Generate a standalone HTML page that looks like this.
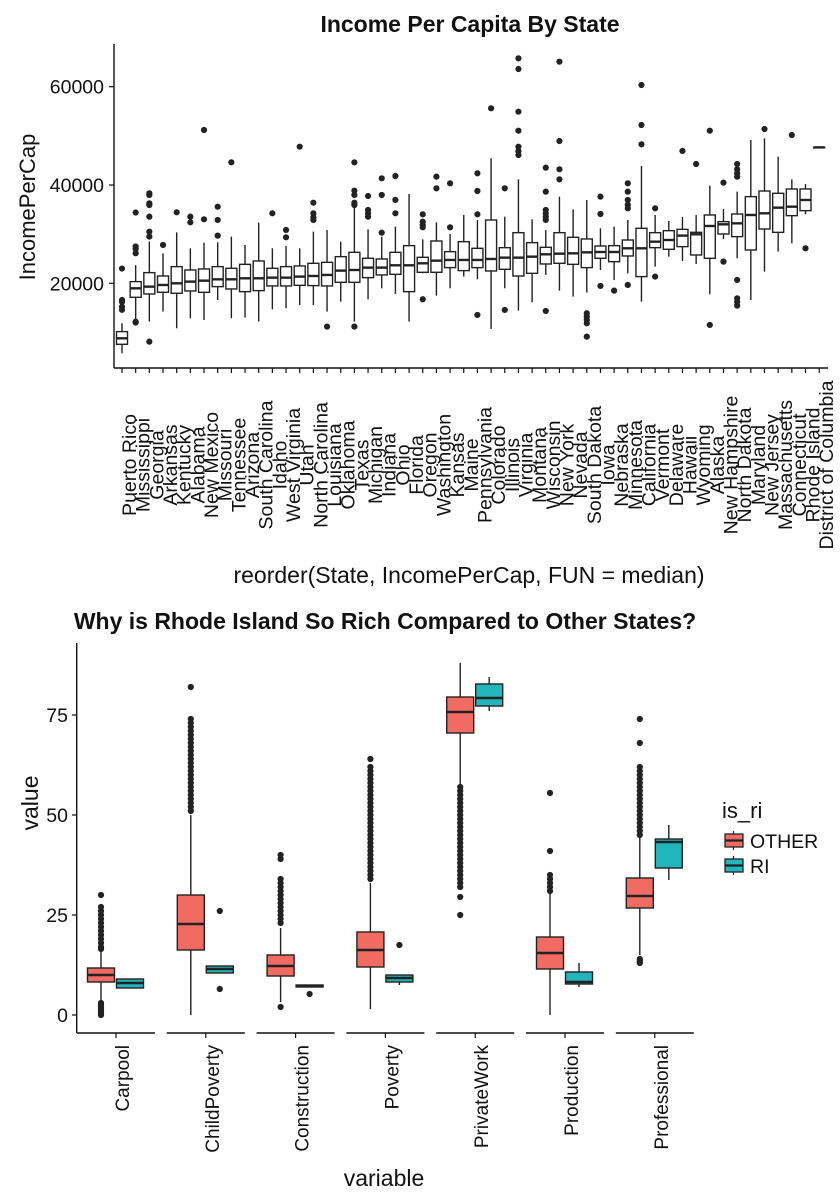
<!DOCTYPE html>
<html><head><meta charset="utf-8"><style>
html,body{margin:0;padding:0;background:#fff;}
svg{display:block;font-family:"Liberation Sans",Arial,sans-serif;}
</style></head><body>
<svg id="chart" width="840" height="1200" viewBox="0 0 840 1200" xmlns="http://www.w3.org/2000/svg">
<text x="470" y="32" text-anchor="middle" font-size="23" font-weight="bold" fill="#111">Income Per Capita By State</text>
<text transform="translate(35,207) rotate(-90)" text-anchor="middle" font-size="22" fill="#111">IncomePerCap</text>
<text x="469" y="583" text-anchor="middle" font-size="23" fill="#111">reorder(State, IncomePerCap, FUN = median)</text>
<g id="topPlot"></g>
<text x="385" y="629" text-anchor="middle" font-size="23" font-weight="bold" fill="#111">Why is Rhode Island So Rich Compared to Other States?</text>
<text transform="translate(38,803) rotate(-90)" text-anchor="middle" font-size="23" fill="#111">value</text>
<text x="384" y="1186" text-anchor="middle" font-size="23" fill="#111">variable</text>
<g id="botPlot"></g>
<g>
<text x="722" y="818" font-size="22" fill="#111">is_ri</text>
<g>
<line x1="733.5" y1="831" x2="733.5" y2="850" stroke="#222" stroke-width="1.2"/>
<rect x="725" y="834" width="18" height="13" fill="#F26B63" stroke="#222" stroke-width="1.3"/>
<line x1="725" y1="840.5" x2="743" y2="840.5" stroke="#222" stroke-width="2.2"/>
<text x="750" y="848" font-size="19.5" fill="#111">OTHER</text></g>
<g>
<line x1="733.5" y1="856" x2="733.5" y2="875" stroke="#222" stroke-width="1.2"/>
<rect x="725" y="859" width="18" height="13" fill="#20B6BC" stroke="#222" stroke-width="1.3"/>
<line x1="725" y1="865.5" x2="743" y2="865.5" stroke="#222" stroke-width="2.2"/>
<text x="750" y="873" font-size="19.5" fill="#111">RI</text></g>
</g>
</svg>
<script>
// ---------- TOP CHART DATA ----------
const states = ["Puerto Rico","Mississippi","Georgia","Arkansas","Kentucky","Alabama","New Mexico","Missouri","Tennessee","Arizona","South Carolina","Idaho","West Virginia","Utah","North Carolina","Louisiana","Oklahoma","Texas","Michigan","Indiana","Ohio","Florida","Oregon","Washington","Kansas","Maine","Pennsylvania","Colorado","Illinois","Virginia","Montana","Wisconsin","New York","Nevada","South Dakota","Iowa","Nebraska","Minnesota","California","Vermont","Delaware","Hawaii","Wyoming","Alaska","New Hampshire","North Dakota","Maryland","New Jersey","Massachusetts","Connecticut","Rhode Island","District of Columbia"];
const stMin = [5760,12540,12200,14240,10850,12880,12540,16610,12880,13020,12200,14710,14920,15590,15590,14240,16270,12200,16750,18980,17830,12200,22030,17490,18980,21360,20810,10710,18980,14440,16130,21700,18510,17290,18100,22710,20680,22030,16270,23390,25420,24540,23930,17760,29020,25090,16610,22370,26440,28140,34030,47660];
const stQ1 = [7590,17150,17830,18170,17970,18440,18170,19320,18850,18300,18510,19460,19460,19590,19530,19460,20200,20200,21150,21700,21830,18300,22240,22240,23190,22580,23190,22510,22850,21490,22030,23930,24070,23860,23190,25090,24400,25560,21360,27250,26920,27460,25760,25090,30030,29490,26780,31050,30370,33760,34780,47660];
const stMed = [8810,18980,19320,19660,20000,20340,20540,20810,20810,21020,21020,21150,21150,21360,21490,21700,22580,22710,23190,23190,23660,23660,24070,24610,24750,24750,24750,24950,25220,25220,25420,25900,26030,26100,26300,26370,26370,27120,27120,28470,28810,29700,29970,31660,32000,32200,33900,34240,35390,35590,36950,47660];
const stQ3 = [10170,20340,22170,21490,23390,22710,22920,23390,23050,23860,24540,23050,23390,23530,24070,24270,25420,26300,25090,24950,26300,27660,25290,28610,26440,28470,27120,32880,27250,30300,28270,27320,30300,29360,29020,27590,27660,28810,31190,30300,30710,30980,30370,33900,32540,34100,37630,38780,38310,39190,39190,47660];
const stMax = [11860,23700,28500,26100,30370,27120,28270,28340,29500,27800,32340,27120,27590,27120,30510,30850,28470,35590,30980,29500,31530,38170,28950,32410,30030,33900,32880,45430,33560,41150,33020,30850,37630,35050,36950,31190,31530,32880,43870,33900,32680,33500,33900,39870,35120,38650,49150,49490,45760,41150,40200,47660];
const stOut = [[14600,15200,16200,16600,23000],[12000,12200,26100,27000,27500,34400],[8130,29500,30500,33560,35930,36270,37970,38310],[27800],[34440],[32410,33560],[33020,51190],[29700,32880,35590],[44610],[],[],[34240],[29360,30850],[47800],[32880,33420,34240,36400],[11190],[],[11190,37970,35930,36400,38850,44610],[33560,34240,34920,37760],[30300,37970,41360],[34240,36950,41830],[],[16750,31390,31870,32540,34030],[39320,41700],[31390,40340],[],[13560,34030,38780,42370],[55600],[14580,39320],[46100,46900,47800,51050,54920,63600,65770],[],[14370,32880,33560,34240,34920,38650,43530],[41150,43190,48950,65090],[],[9150,11860,12540,13220,13900],[19460,34100,37630],[18510],[19660,35250,35930,36950,38650,40340],[48270,52200,60340],[21360,35250],[],[46920],[44270],[11520,51050],[24410,40480],[15460,16200,16950,20680,41700,42370,43190,44270],[],[51390],[],[50170],[27120],[]];
const yTicksTop = [20000,40000,60000];

// ---------- BOTTOM CHART DATA ----------
const variables = ["Carpool","ChildPoverty","Construction","Poverty","PrivateWork","Production","Professional"];
const groups = ["OTHER","RI"];
const otherMin = [3.25,0,3.25,1.5,57,0,15];
const otherQ1 = [8.25,16.25,9.75,12,70.5,11.5,26.75];
const otherMed = [10,22.75,12.25,16.25,75.75,15.5,29.75];
const otherQ3 = [11.75,30,15,20.75,79.5,19.5,34.25];
const otherMax = [15.75,50,21.75,33,88,30.5,44.5];
const riMin = [6.75,10.5,7,7.5,76,7,33.75];
const riQ1 = [6.75,10.5,7,8.25,77.25,7.75,36.75];
const riMed = [8,11.5,7.25,9.25,79.25,8.25,43.25];
const riQ3 = [9,12.25,7.5,10,82.75,10.75,44];
const riMax = [9,12.25,7.5,10,84.5,13,47.5];
const otherOut = [
 [0,0.5,1,1.5,2,2.5,3,16.5,17,18,19,20,21,22,23,24,25,26,27,30],
 [51,52,53,54,55,56,57,58,59,60,61,62,63,64,65,66,67,68,69,70,71,72,73,74,82],
 [2,23,24,25,26,27,28,29,30,31,32,33,34,39,40],
 [34,35,36,37,38,39,40,41,42,43,44,45,46,47,48,49,50,51,52,53,54,55,56,57,58,59,60,61,62,64],
 [25,29.5,32,33,34,35,36,37,38,39,40,41,42,43,44,45,46,47,48,49,50,51,52,53,54,55,56,57],
 [31,32,33,34,35,41,55.5],
 [13,13.5,14,45,46,47,48,49,50,51,52,53,54,55,56,57,58,59,60,61,62,68,74]
];
const riOut = [[],[6.5,26],[5.25],[17.5],[],[],[]];
const yTicksBot = [0,25,50,75];

// ---------- helpers ----------
const NS = "http://www.w3.org/2000/svg";
function mk(parent, tag, attrs){const e=document.createElementNS(NS,tag);for(const k in attrs)e.setAttribute(k,attrs[k]);parent.appendChild(e);return e;}
function boxplot(g,cx,w,sy,mn,q1,md,q3,mx,outs,fill,mw){
  mk(g,'line',{x1:cx,x2:cx,y1:sy(mx),y2:sy(q3),stroke:'#222','stroke-width':1.4});
  mk(g,'line',{x1:cx,x2:cx,y1:sy(q1),y2:sy(mn),stroke:'#222','stroke-width':1.4});
  mk(g,'rect',{x:cx-w/2,y:sy(q3),width:w,height:Math.max(0.5,sy(q1)-sy(q3)),fill:fill,stroke:'#222','stroke-width':1.4});
  mk(g,'line',{x1:cx-w/2,x2:cx+w/2,y1:sy(md),y2:sy(md),stroke:'#222','stroke-width':mw});
  outs.forEach(v=>{mk(g,'circle',{cx:cx,cy:sy(v),r:3.1,fill:'#222'});});
}

// ---------- TOP ----------
const topG = document.getElementById('topPlot');
const tyScale = v => 283.3-(v-20000)*98.3/20000;
const txScale = i => 122+i*13.67;
mk(topG,'line',{x1:114,x2:114,y1:44,y2:368,stroke:'#111','stroke-width':1.4});
mk(topG,'line',{x1:114,x2:828,y1:368,y2:368,stroke:'#111','stroke-width':1.4});
yTicksTop.forEach(t=>{
  mk(topG,'line',{x1:109,x2:114,y1:tyScale(t),y2:tyScale(t),stroke:'#111','stroke-width':1.2});
  const tx=mk(topG,'text',{x:104,y:tyScale(t)+7,'text-anchor':'end','font-size':19.5,fill:'#111'});
  tx.textContent=t;
  
  
});
states.forEach((s,i)=>{
  const x=txScale(i);
  mk(topG,'line',{x1:x,x2:x,y1:368,y2:373,stroke:'#111','stroke-width':1.2});
  const g=mk(topG,'g',{});
  
  
  boxplot(g,x,11,tyScale,stMin[i],stQ1[i],stMed[i],stQ3[i],stMax[i],stOut[i],'#fff',2.4);
  const t=mk(topG,'text',{transform:`translate(${x+14},465) rotate(-90)`,'text-anchor':'middle','font-size':19.5,fill:'#111'});
  t.textContent=s;
  
  
});

// ---------- BOTTOM ----------
const botG = document.getElementById('botPlot');
const byScale = v => 1015-4*v;
const pc = j => 116+j*89.8;
mk(botG,'line',{x1:76.7,x2:76.7,y1:643,y2:1033,stroke:'#111','stroke-width':1.4});
yTicksBot.forEach(t=>{
  mk(botG,'line',{x1:72,x2:76.7,y1:byScale(t),y2:byScale(t),stroke:'#111','stroke-width':1.2});
  const tx=mk(botG,'text',{x:68,y:byScale(t)+7,'text-anchor':'end','font-size':19.5,fill:'#111'});
  tx.textContent=t;
  
  
});
variables.forEach((v,j)=>{
  const c=pc(j);
  mk(botG,'line',{x1:j===0?76.7:c-39,x2:c+39,y1:1033,y2:1033,stroke:'#111','stroke-width':1.4});
  mk(botG,'line',{x1:c,x2:c,y1:1033,y2:1038,stroke:'#111','stroke-width':1.2});
  const go=mk(botG,'g',{});
  
  
  boxplot(go,c-15,27,byScale,otherMin[j],otherQ1[j],otherMed[j],otherQ3[j],otherMax[j],otherOut[j],'#F26B63',2.6);
  const gr=mk(botG,'g',{});
  
  
  boxplot(gr,c+14,27,byScale,riMin[j],riQ1[j],riMed[j],riQ3[j],riMax[j],riOut[j],'#20B6BC',2.6);
  const t=mk(botG,'text',{transform:`translate(${c+13},1045) rotate(-90)`,'text-anchor':'end','font-size':19,fill:'#111'});
  t.textContent=v;
  
  
});
</script>
</body></html>
